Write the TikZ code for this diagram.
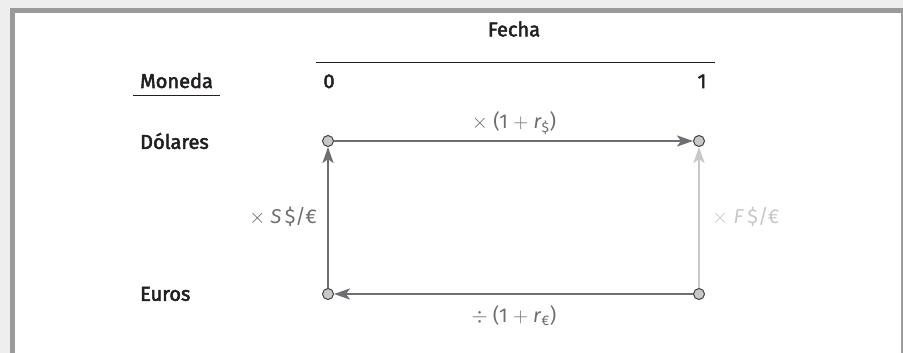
\documentclass[tikz,border=0pt]{standalone}
\usepackage{fontspec}
\setmainfont{Fira Sans}
\newfontfamily\medfont[FakeBold=2.5]{Fira Sans}
\usetikzlibrary{arrows.meta}
\definecolor{bgout}{HTML}{EEEEEE}
\definecolor{frame}{HTML}{9A9A9B}
\definecolor{txt}{HTML}{231F20}
\definecolor{dline}{HTML}{6D6E71}
\definecolor{lline}{HTML}{C7C8CA}
\definecolor{dotfill}{HTML}{C7C8CA}
\definecolor{dotdraw}{HTML}{404041}
\newcommand{\tms}{\ensuremath{\times}}
\newcommand{\dvs}{\ensuremath{\div}}
\newcommand{\pls}{\ensuremath{+}}
\begin{document}
\begin{tikzpicture}[x=1pt,y=-1pt,
  head/.style={font=\fontsize{20}{22}\medfont, text=txt},
  lab/.style={font=\fontsize{20}{22}\selectfont, text=dline},
  lablight/.style={font=\fontsize{20}{22}\selectfont, text=lline},
  dot/.style={circle, draw=dotdraw, fill=dotfill, line width=1pt, minimum size=11pt, inner sep=0pt},
  darrow/.style={draw=dline, line width=2.4pt, -{Stealth[length=16pt,width=11pt,inset=4pt]}},
  larrow/.style={draw=lline, line width=2.4pt, -{Stealth[length=16pt,width=11pt,inset=4pt]}},
  rule/.style={draw=txt, line width=0.8pt}]
\useasboundingbox (0,0) rectangle (903,353);
\fill[bgout] (0,0) rectangle (903,353);
\fill[frame] (10,8) rectangle (903,353);
\fill[white] (15,13) rectangle (901,353);
% headers
\node[head] (fecha) at (514,29) {Fecha};
\coordinate (rl) at (316,62);
\coordinate (rr) at (715,62);
\draw[rule] (rl) -- (rr);
\node[head, anchor=base west, inner sep=0pt] (moneda) at (140,88) {Moneda};
\coordinate (ul) at (133,95);
\coordinate (ur) at (220,95);
\draw[rule] (ul) -- (ur);
\node[head, anchor=base, inner sep=0pt] (t0) at (329,88) {0};
\node[head, anchor=base, inner sep=0pt] (t1) at (702,88) {1};
\node[head, anchor=west, inner sep=0pt] (dol) at (140,141) {Dólares};
\node[head, anchor=west, inner sep=0pt] (eur) at (140,294) {Euros};
% nodes
\node[dot] (d0) at (328,141) {};
\node[dot] (d1) at (699,141) {};
\node[dot] (e0) at (328,294) {};
\node[dot] (e1) at (699,294) {};
% arrows
\draw[darrow] (d0) -- (d1);
\draw[darrow] (e0) -- (d0);
\draw[darrow] (e1) -- (e0);
\draw[larrow] (e1) -- (d1);
% labels
\node[lab] (ltop) at (514,123) {\tms\ (1 \pls\ \textit{r}\textsubscript{\$})};
\node[lab] (lbot) at (514,316) {\dvs\ (1 \pls\ \textit{r}\textsubscript{€})};
\node[lab, anchor=east, inner sep=0pt] (lleft) at (317,217) {\tms\ \textit{S}\,\$/€};
\node[lablight, anchor=west, inner sep=0pt] (lright) at (712,217) {\tms\ \textit{F}\,\$/€};
\end{tikzpicture}
\end{document}
